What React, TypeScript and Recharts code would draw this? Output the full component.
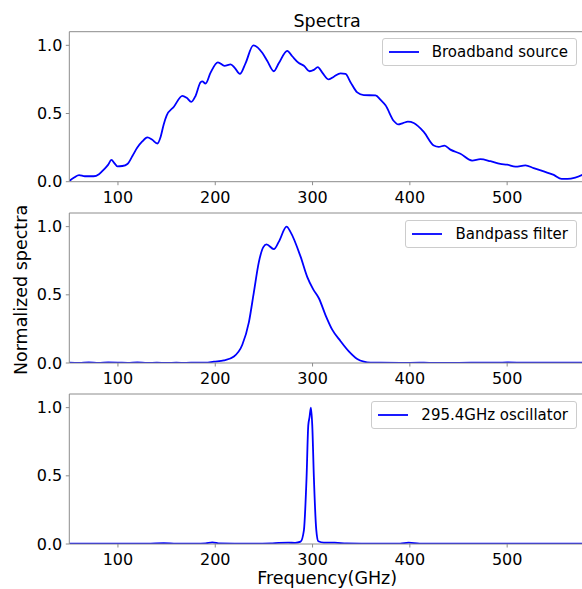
import React from 'react';
import { LineChart, Line, XAxis, YAxis, Legend, ReferenceLine } from 'recharts';

// ---------- data ----------
const broadbandFreq = [50, 55, 60, 66, 75, 80.5, 85.6, 90, 93.2, 96.5, 99.4, 104.5, 109.7, 115, 119.9, 125, 130.2, 134.9, 140.5, 143.9, 147, 150, 157.5, 166.2, 170.6, 175.4, 179.8, 185, 186.7, 190, 195.2, 202.7, 209.6, 215.8, 220, 225.3, 231.2, 239.1, 248.3, 253.5, 260.2, 265.4, 274, 279.1, 285.9, 291.1, 296.9, 301.3, 305.4, 310, 316.7, 321.9, 328.8, 333.9, 339, 345.9, 352.7, 364.7, 370, 375, 383.5, 388, 393, 398, 404, 414.3, 424.6, 429.7, 435.6, 441.7, 452, 464, 472.5, 482.8, 493, 500, 508.5, 518.8, 527.3, 537.6, 547.9, 556, 562, 570, 580];
const broadbandValue = [0.005, 0.03, 0.048, 0.04, 0.04, 0.055, 0.09, 0.125, 0.16, 0.135, 0.112, 0.115, 0.13, 0.19, 0.25, 0.295, 0.325, 0.31, 0.28, 0.33, 0.42, 0.485, 0.55, 0.63, 0.615, 0.585, 0.63, 0.73, 0.735, 0.72, 0.8, 0.875, 0.85, 0.86, 0.835, 0.79, 0.87, 1.0, 0.945, 0.885, 0.81, 0.87, 0.96, 0.92, 0.87, 0.85, 0.81, 0.82, 0.84, 0.8, 0.75, 0.77, 0.795, 0.79, 0.73, 0.655, 0.635, 0.633, 0.6, 0.56, 0.445, 0.42, 0.43, 0.44, 0.43, 0.365, 0.265, 0.255, 0.265, 0.235, 0.205, 0.155, 0.165, 0.15, 0.13, 0.125, 0.11, 0.12, 0.1, 0.075, 0.05, 0.02, 0.02, 0.03, 0.06];

const bandpassFreq = [50, 60, 70, 80, 90, 100, 110, 120, 130, 140, 150, 160, 170, 180, 190, 198.6, 208.9, 219.2, 227.8, 234.6, 239.7, 244.8, 249.4, 252.7, 260.2, 265.4, 273.3, 277.4, 287.7, 294.6, 300.7, 306.5, 313.4, 320.2, 328.8, 337.3, 345.9, 352.7, 359.6, 370, 390, 410, 430, 450, 470, 490, 500, 520, 540, 560, 580];
const bandpassValue = [0.003, 0.001, 0.004, 0.001, 0.004, 0.003, 0.001, 0.004, 0.001, 0.002, 0.001, 0.002, 0.001, 0.003, 0.002, 0.01, 0.019, 0.048, 0.134, 0.3, 0.52, 0.74, 0.85, 0.87, 0.835, 0.89, 1.0, 0.96, 0.78, 0.63, 0.54, 0.475, 0.35, 0.245, 0.16, 0.085, 0.03, 0.01, 0.003, 0.002, 0.001, 0.002, 0.001, 0.001, 0.002, 0.002, 0.004, 0.002, 0.003, 0.002, 0.002];

const oscillatorFreq = [50, 70, 90, 110, 130, 147, 160, 180, 190, 197, 205, 220, 240, 257, 265, 275, 282, 287.7, 291.1, 293.8, 295.6, 296.9, 298.3, 299.7, 301.4, 303.8, 305.9, 311.6, 322.8, 335, 350, 370, 390, 398.7, 410, 430, 460, 500, 540, 580];
const oscillatorValue = [0.002, 0.003, 0.002, 0.003, 0.002, 0.007, 0.003, 0.002, 0.005, 0.012, 0.004, 0.003, 0.003, 0.005, 0.008, 0.01, 0.008, 0.017, 0.1, 0.48, 0.87, 0.93, 1.0, 0.87, 0.48, 0.105, 0.02, 0.01, 0.01, 0.004, 0.003, 0.002, 0.003, 0.01, 0.003, 0.002, 0.002, 0.002, 0.002, 0.002];

const seriesNames = ['Broadband source', 'Bandpass filter', '295.4GHz oscillator'];
const xTicks = [100, 200, 300, 400, 500];
const yTicks = [0, 0.5, 1.0];
const xDomain = [50, 580];
const yDomain = [0, 1.1];
const titleText = 'Spectra';
const xLabelText = 'Frequency(GHz)';
const yLabelText = 'Normalized spectra';

// ---------- styles ----------
const FONT = '"DejaVu Sans", sans-serif';
const SPINE = '#8c8c8c';
const BLUE = '#0000ff';
const CHART_W = 600;
const PLOT_H = 150;

const zip = (f: number[], v: number[]) => f.map((x, i) => ({ f: x, v: v[i] }));

const LegendBox = (props: any) => {
  const label = props && props.payload && props.payload[0] ? props.payload[0].value : '';
  return (
    <div
      style={{
        display: 'flex',
        alignItems: 'center',
        height: 28,
        padding: '0 8px 0 6px',
        border: '1px solid #cccccc',
        borderRadius: 3,
        background: 'rgba(255,255,255,0.8)',
        fontFamily: FONT,
        fontSize: 15,
        color: '#000',
        whiteSpace: 'nowrap',
        boxSizing: 'border-box',
      }}
    >
      <svg width={30} height={4} style={{ marginRight: 13 }}>
        <line x1={0} y1={2} x2={30} y2={2} stroke={BLUE} strokeWidth={1.8} />
      </svg>
      <span>{label}</span>
    </div>
  );
};

type PanelProps = {
  data: { f: number; v: number }[];
  name: string;
  top: number;
  mt: number;
  xAxisH: number;
  title?: string;
  xLabel?: string;
};

const Panel = ({ data, name, top, mt, xAxisH, title, xLabel }: PanelProps) => {
  const height = mt + PLOT_H + xAxisH;
  return (
    <div style={{ position: 'absolute', left: 0, top }}>
      <LineChart width={CHART_W} height={height} data={data} margin={{ top: mt, right: 15, left: 0, bottom: 0 }}>
        <XAxis
          dataKey="f"
          type="number"
          domain={xDomain}
          ticks={xTicks}
          allowDataOverflow
          height={xAxisH}
          tickSize={3.5}
          tickMargin={6}
          tick={{ fill: '#000', fontSize: 16, fontFamily: FONT }}
          tickLine={{ stroke: SPINE }}
          axisLine={{ stroke: SPINE, strokeWidth: 1 }}
          label={xLabel ? { value: xLabel, position: 'insideBottom', offset: 5, fontSize: 17.5, fontFamily: FONT, fill: '#000' } : undefined}
        />
        <YAxis
          type="number"
          domain={yDomain}
          ticks={yTicks}
          allowDataOverflow
          width={69.3}
          tickSize={3.5}
          tickMargin={3.5}
          tickFormatter={(v: number) => v.toFixed(1)}
          tick={{ fill: '#000', fontSize: 16, fontFamily: FONT }}
          tickLine={{ stroke: SPINE }}
          axisLine={{ stroke: SPINE, strokeWidth: 1 }}
        />
        <ReferenceLine
          y={yDomain[1]}
          stroke={SPINE}
          strokeWidth={1}
          ifOverflow="visible"
          label={title ? { value: title, position: 'top', offset: 5, fontSize: 17.5, fontFamily: FONT, fill: '#000' } : undefined}
        />
        <Line
          type="monotone"
          dataKey="v"
          name={name}
          stroke={BLUE}
          strokeWidth={1.8}
          dot={false}
          activeDot={false}
          isAnimationActive={false}
        />
        <Legend
          layout="vertical"
          align="center"
          verticalAlign="middle"
          content={<LegendBox />}
          wrapperStyle={{ left: 'auto', right: CHART_W - 577, top: mt + 6.6, width: 'auto', height: 'auto' }}
        />
      </LineChart>
    </div>
  );
};

export default function App() {
  return (
    <div
      style={{
        position: 'absolute',
        left: 0,
        top: 0,
        width: 582,
        height: 589,
        overflow: 'hidden',
        background: '#fff',
      }}
    >
      <Panel data={zip(broadbandFreq, broadbandValue)} name={seriesNames[0]} top={0} mt={31.7} xAxisH={30} title={titleText} />
      <Panel data={zip(bandpassFreq, bandpassValue)} name={seriesNames[1]} top={203.3} mt={10} xAxisH={30} />
      <Panel data={zip(oscillatorFreq, oscillatorValue)} name={seriesNames[2]} top={384} mt={10} xAxisH={45} xLabel={xLabelText} />
      <svg width={60} height={589} style={{ position: 'absolute', left: 0, top: 0 }}>
        <text
          x={26.5}
          y={290}
          transform="rotate(-90, 26.5, 290)"
          textAnchor="middle"
          fontSize={17.5}
          fontFamily={FONT}
          fill="#000"
        >
          {yLabelText}
        </text>
      </svg>
    </div>
  );
}
